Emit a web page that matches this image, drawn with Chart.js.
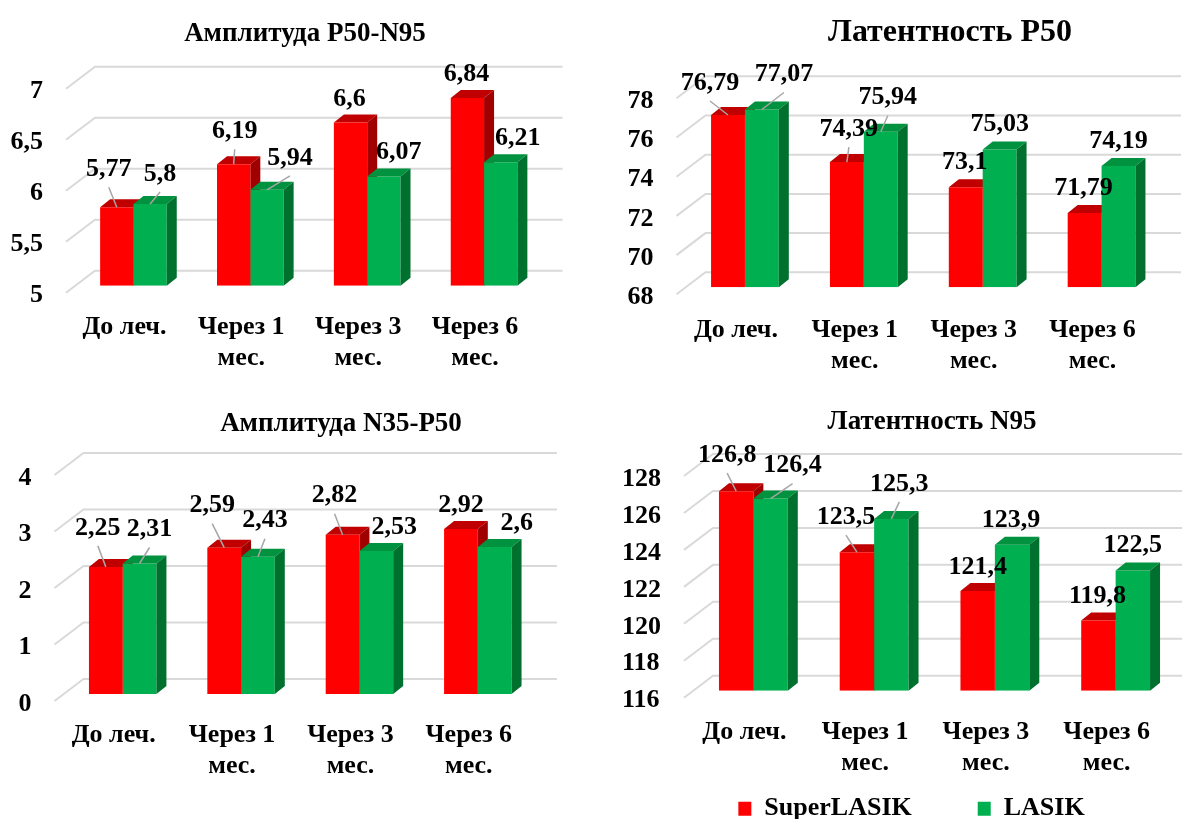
<!DOCTYPE html>
<html lang="ru">
<head>
<meta charset="utf-8">
<title>SuperLASIK / LASIK</title>
<script src="https://cdn.jsdelivr.net/npm/chart.js@4.4.1/dist/chart.umd.min.js"></script>
<style>
  html, body { margin: 0; padding: 0; background: #fff; }
  #page { position: relative; width: 1182px; height: 819px; overflow: hidden; }
  #page canvas { position: absolute; }
</style>
</head>
<body>
<div id="page">
  <canvas id="ampP50N95" width="591" height="400" style="left:0;top:0"></canvas>
  <canvas id="latP50" width="591" height="400" style="left:591px;top:0"></canvas>
  <canvas id="ampN35P50" width="591" height="419" style="left:0;top:400px"></canvas>
  <canvas id="latN95" width="591" height="419" style="left:591px;top:400px"></canvas>
</div>
<script>
// categories and series
const periods = ['До леч.', ['Через 1', 'мес.'], ['Через 3', 'мес.'], ['Через 6', 'мес.']];
const groups = ['SuperLASIK', 'LASIK'];

const ampP50N95Super = [5.77, 6.19, 6.6, 6.84];
const ampP50N95Lasik = [5.8, 5.94, 6.07, 6.21];
const latP50Super = [76.79, 74.39, 73.1, 71.79];
const latP50Lasik = [77.07, 75.94, 75.03, 74.19];
const ampN35P50Super = [2.25, 2.59, 2.82, 2.92];
const ampN35P50Lasik = [2.31, 2.43, 2.53, 2.6];
const latN95Super = [126.8, 123.5, 121.4, 119.8];
const latN95Lasik = [126.4, 125.3, 123.9, 122.5];

// value axes: [min, max, step]
const ampP50N95Axis = [5, 7, 0.5];
const latP50Axis = [68, 78, 2];
const ampN35P50Axis = [0, 4, 1];
const latN95Axis = [116, 128, 2];

const FAMILY = "'Liberation Serif', 'Times New Roman', serif";
Chart.defaults.font.family = FAMILY;
Chart.defaults.font.weight = 'bold';
Chart.defaults.color = '#000';

// fake 3d: floor/back wall offsets and column depth, in px
const FRONT = { dx: -9, dy: 7 };
const BACK = { dx: 20, dy: -15 };
const DEPTH = { dx: 10, dy: 8 };

const shades = [
  { front: '#FF0000', top: '#C00000', side: '#A00000' },
  { front: '#00B050', top: '#00923F', side: '#00702F' }
];

// value label placement relative to the column top: [dx, dy, leader line]
const shiftP50N95 = [
  [[-8, -39, 1], [1, -34, 1], [-1, -24, 0], [-1, -25, 0]],
  [[10, -31, 1], [23, -33, 1], [15, -25, 0], [17, -25, 0]]
];
const shiftLatP50 = [
  [[-18, -33, 1], [2, -34, 1], [-1, -26, 0], [-1, -26, 0]],
  [[22, -36, 1], [7, -35, 1], [0, -26, 0], [0, -26, 0]]
];
const shiftN35P50 = [
  [[-8, -40, 1], [-12, -43, 1], [-8, -40, 1], [0, -25, 0]],
  [[10, -35, 1], [7, -37, 1], [18, -25, 0], [22, -25, 0]]
];
const shiftLatN95 = [
  [[-9, -37, 1], [-11, -36, 1], [0, -25, 0], [-1, -25, 0]],
  [[22, -34, 1], [8, -36, 1], [-1, -25, 0], [0, -26, 0]]
];

// page position of each panel and where its plot area should sit.
// latN95 carries the legend, so its axes use mirrored ticks to keep the
// labels outside the (narrow) axis boxes without clipping.
const panels = {
  ampP50N95: { x: 0, y: 0, area: { left: 75, top: 81.7, right: 542.5, bottom: 285.7 },
    axisWidth: 75, axisHeight: 114, yPad: 32, xPad: 26,
    title: { text: 'Амплитуда P50-N95', x: 305, y: 34, size: 27 }, labels: shiftP50N95 },
  latP50: { x: 591, y: 0, area: { left: 685.5, top: 91.3, right: 1161, bottom: 287.3 },
    axisWidth: 90, axisHeight: 112, yPad: 32, xPad: 27,
    title: { text: 'Латентность P50', x: 950, y: 33, size: 32 }, labels: shiftLatP50 },
  ampN35P50: { x: 0, y: 400, area: { left: 63.5, top: 468, right: 537, bottom: 694 },
    axisWidth: 63, axisHeight: 125, yPad: 32, xPad: 26,
    title: { text: 'Амплитуда N35-P50', x: 341, y: 424, size: 27 }, labels: shiftN35P50 },
  latN95: { x: 591, y: 400, area: { left: 693, top: 469, right: 1176, bottom: 690.7 },
    axisWidth: 46, axisHeight: 39, yPad: -71, xPad: -57, mirror: true,
    title: { text: 'Латентность N95', x: 932, y: 422, size: 27 }, labels: shiftLatN95, legend: true }
};

const comma = v => String(v).replace('.', ',');

function barFaces(ctx, meta, shade) {
  meta.data.forEach(bar => {
    const { x, y, width, base } = bar.getProps(['x', 'y', 'width', 'base'], true);
    const l = x - width / 2, r = x + width / 2;
    ctx.fillStyle = shade.top;
    ctx.beginPath();
    ctx.moveTo(l, y);
    ctx.lineTo(r, y);
    ctx.lineTo(r + DEPTH.dx, y - DEPTH.dy);
    ctx.lineTo(l + DEPTH.dx, y - DEPTH.dy);
    ctx.closePath();
    ctx.fill();
    ctx.fillStyle = shade.side;
    ctx.beginPath();
    ctx.moveTo(r, y);
    ctx.lineTo(r + DEPTH.dx, y - DEPTH.dy);
    ctx.lineTo(r + DEPTH.dx, base - DEPTH.dy);
    ctx.lineTo(r, base);
    ctx.closePath();
    ctx.fill();
  });
}

const column3d = {
  id: 'column3d',
  beforeDatasetsDraw(chart) {
    const { ctx, chartArea: a } = chart;
    const yScale = chart.scales.y;
    ctx.save();
    // perspective gridlines: floor edge up to the back wall
    ctx.strokeStyle = '#D9D9D9';
    ctx.lineWidth = 2;
    yScale.ticks.forEach(t => {
      const py = yScale.getPixelForValue(t.value);
      ctx.beginPath();
      ctx.moveTo(a.left + FRONT.dx, py + FRONT.dy);
      ctx.lineTo(a.left + BACK.dx, py + BACK.dy);
      ctx.lineTo(a.right + BACK.dx, py + BACK.dy);
      ctx.stroke();
    });
    // red columns sit behind the green fronts
    barFaces(ctx, chart.getDatasetMeta(0), shades[0]);
    ctx.restore();
  },
  afterDatasetsDraw(chart) {
    const panel = panels[chart.canvas.id];
    const { ctx } = chart;
    ctx.save();
    barFaces(ctx, chart.getDatasetMeta(1), shades[1]);

    ctx.textAlign = 'center';
    ctx.textBaseline = 'middle';
    ctx.font = 'bold 26px ' + FAMILY;
    chart.data.datasets.forEach((ds, i) => {
      chart.getDatasetMeta(i).data.forEach((bar, j) => {
        const [dx, dy, leader] = panel.labels[i][j];
        const lx = bar.x + dx, ly = bar.y + dy + 1;
        if (leader) {
          ctx.strokeStyle = '#A6A6A6';
          ctx.lineWidth = 1.5;
          ctx.beginPath();
          ctx.moveTo(lx, ly + 18);
          ctx.lineTo(bar.x, bar.y);
          ctx.stroke();
        }
        ctx.fillStyle = '#000';
        ctx.fillText(comma(ds.data[j]), lx, ly);
      });
    });

    const t = panel.title;
    ctx.font = `bold ${t.size}px ${FAMILY}`;
    ctx.fillText(t.text, t.x - panel.x, t.y - panel.y);
    ctx.restore();
  }
};

function columnChart(id, superVals, lasikVals, axis) {
  const panel = panels[id];
  const [min, max, step] = axis;
  const mirror = !!panel.mirror;
  const chart = new Chart(document.getElementById(id), {
    type: 'bar',
    data: {
      labels: periods,
      datasets: [
        { label: groups[0], data: superVals, backgroundColor: shades[0].front, borderWidth: 0, base: min },
        { label: groups[1], data: lasikVals, backgroundColor: shades[1].front, borderWidth: 0, base: min }
      ]
    },
    options: {
      responsive: false,
      animation: false,
      devicePixelRatio: 1,
      layout: { padding: { left: 0, right: 0, top: 0, bottom: 0 } },
      categoryPercentage: 0.57,
      barPercentage: 1,
      scales: {
        x: {
          grid: { display: false, drawTicks: false },
          border: { display: false },
          ticks: {
            padding: panel.xPad, mirror, labelOffset: -9, autoSkip: false, minRotation: 0, maxRotation: 0,
            color: '#000', font: { size: 26, weight: 'bold', lineHeight: 31 / 26 }
          },
          afterFit(scale) {
            scale.height = panel.axisHeight;
            scale.paddingLeft = 0;
            scale.paddingRight = 0;
          }
        },
        y: {
          min, max,
          grid: { display: false, drawTicks: false },
          border: { display: false },
          ticks: {
            stepSize: step, padding: panel.yPad, mirror, labelOffset: 10,
            color: '#000', font: { size: 26, weight: 'bold' },
            callback: v => comma(v)
          },
          afterFit(scale) {
            scale.width = panel.axisWidth;
            scale.paddingTop = 0;
            scale.paddingBottom = 0;
          }
        }
      },
      plugins: {
        legend: {
          display: !!panel.legend,
          position: 'bottom',
          labels: {
            boxWidth: 13, boxHeight: 14, padding: 66,
            color: '#000', font: { size: 26, weight: 'bold' }
          }
        },
        tooltip: { enabled: false }
      }
    },
    plugins: [column3d]
  });

  // move the plot area onto its place on the page
  for (let k = 0; k < 2; k++) {
    const a = chart.chartArea;
    const p = chart.options.layout.padding;
    chart.options.layout.padding = {
      left: p.left + (panel.area.left - panel.x) - a.left,
      right: p.right + a.right - (panel.area.right - panel.x),
      top: p.top + (panel.area.top - panel.y) - a.top,
      bottom: p.bottom + a.bottom - (panel.area.bottom - panel.y)
    };
    chart.update();
  }
  return chart;
}

columnChart('ampP50N95', ampP50N95Super, ampP50N95Lasik, ampP50N95Axis);
columnChart('latP50', latP50Super, latP50Lasik, latP50Axis);
columnChart('ampN35P50', ampN35P50Super, ampN35P50Lasik, ampN35P50Axis);
columnChart('latN95', latN95Super, latN95Lasik, latN95Axis);
</script>
</body>
</html>
